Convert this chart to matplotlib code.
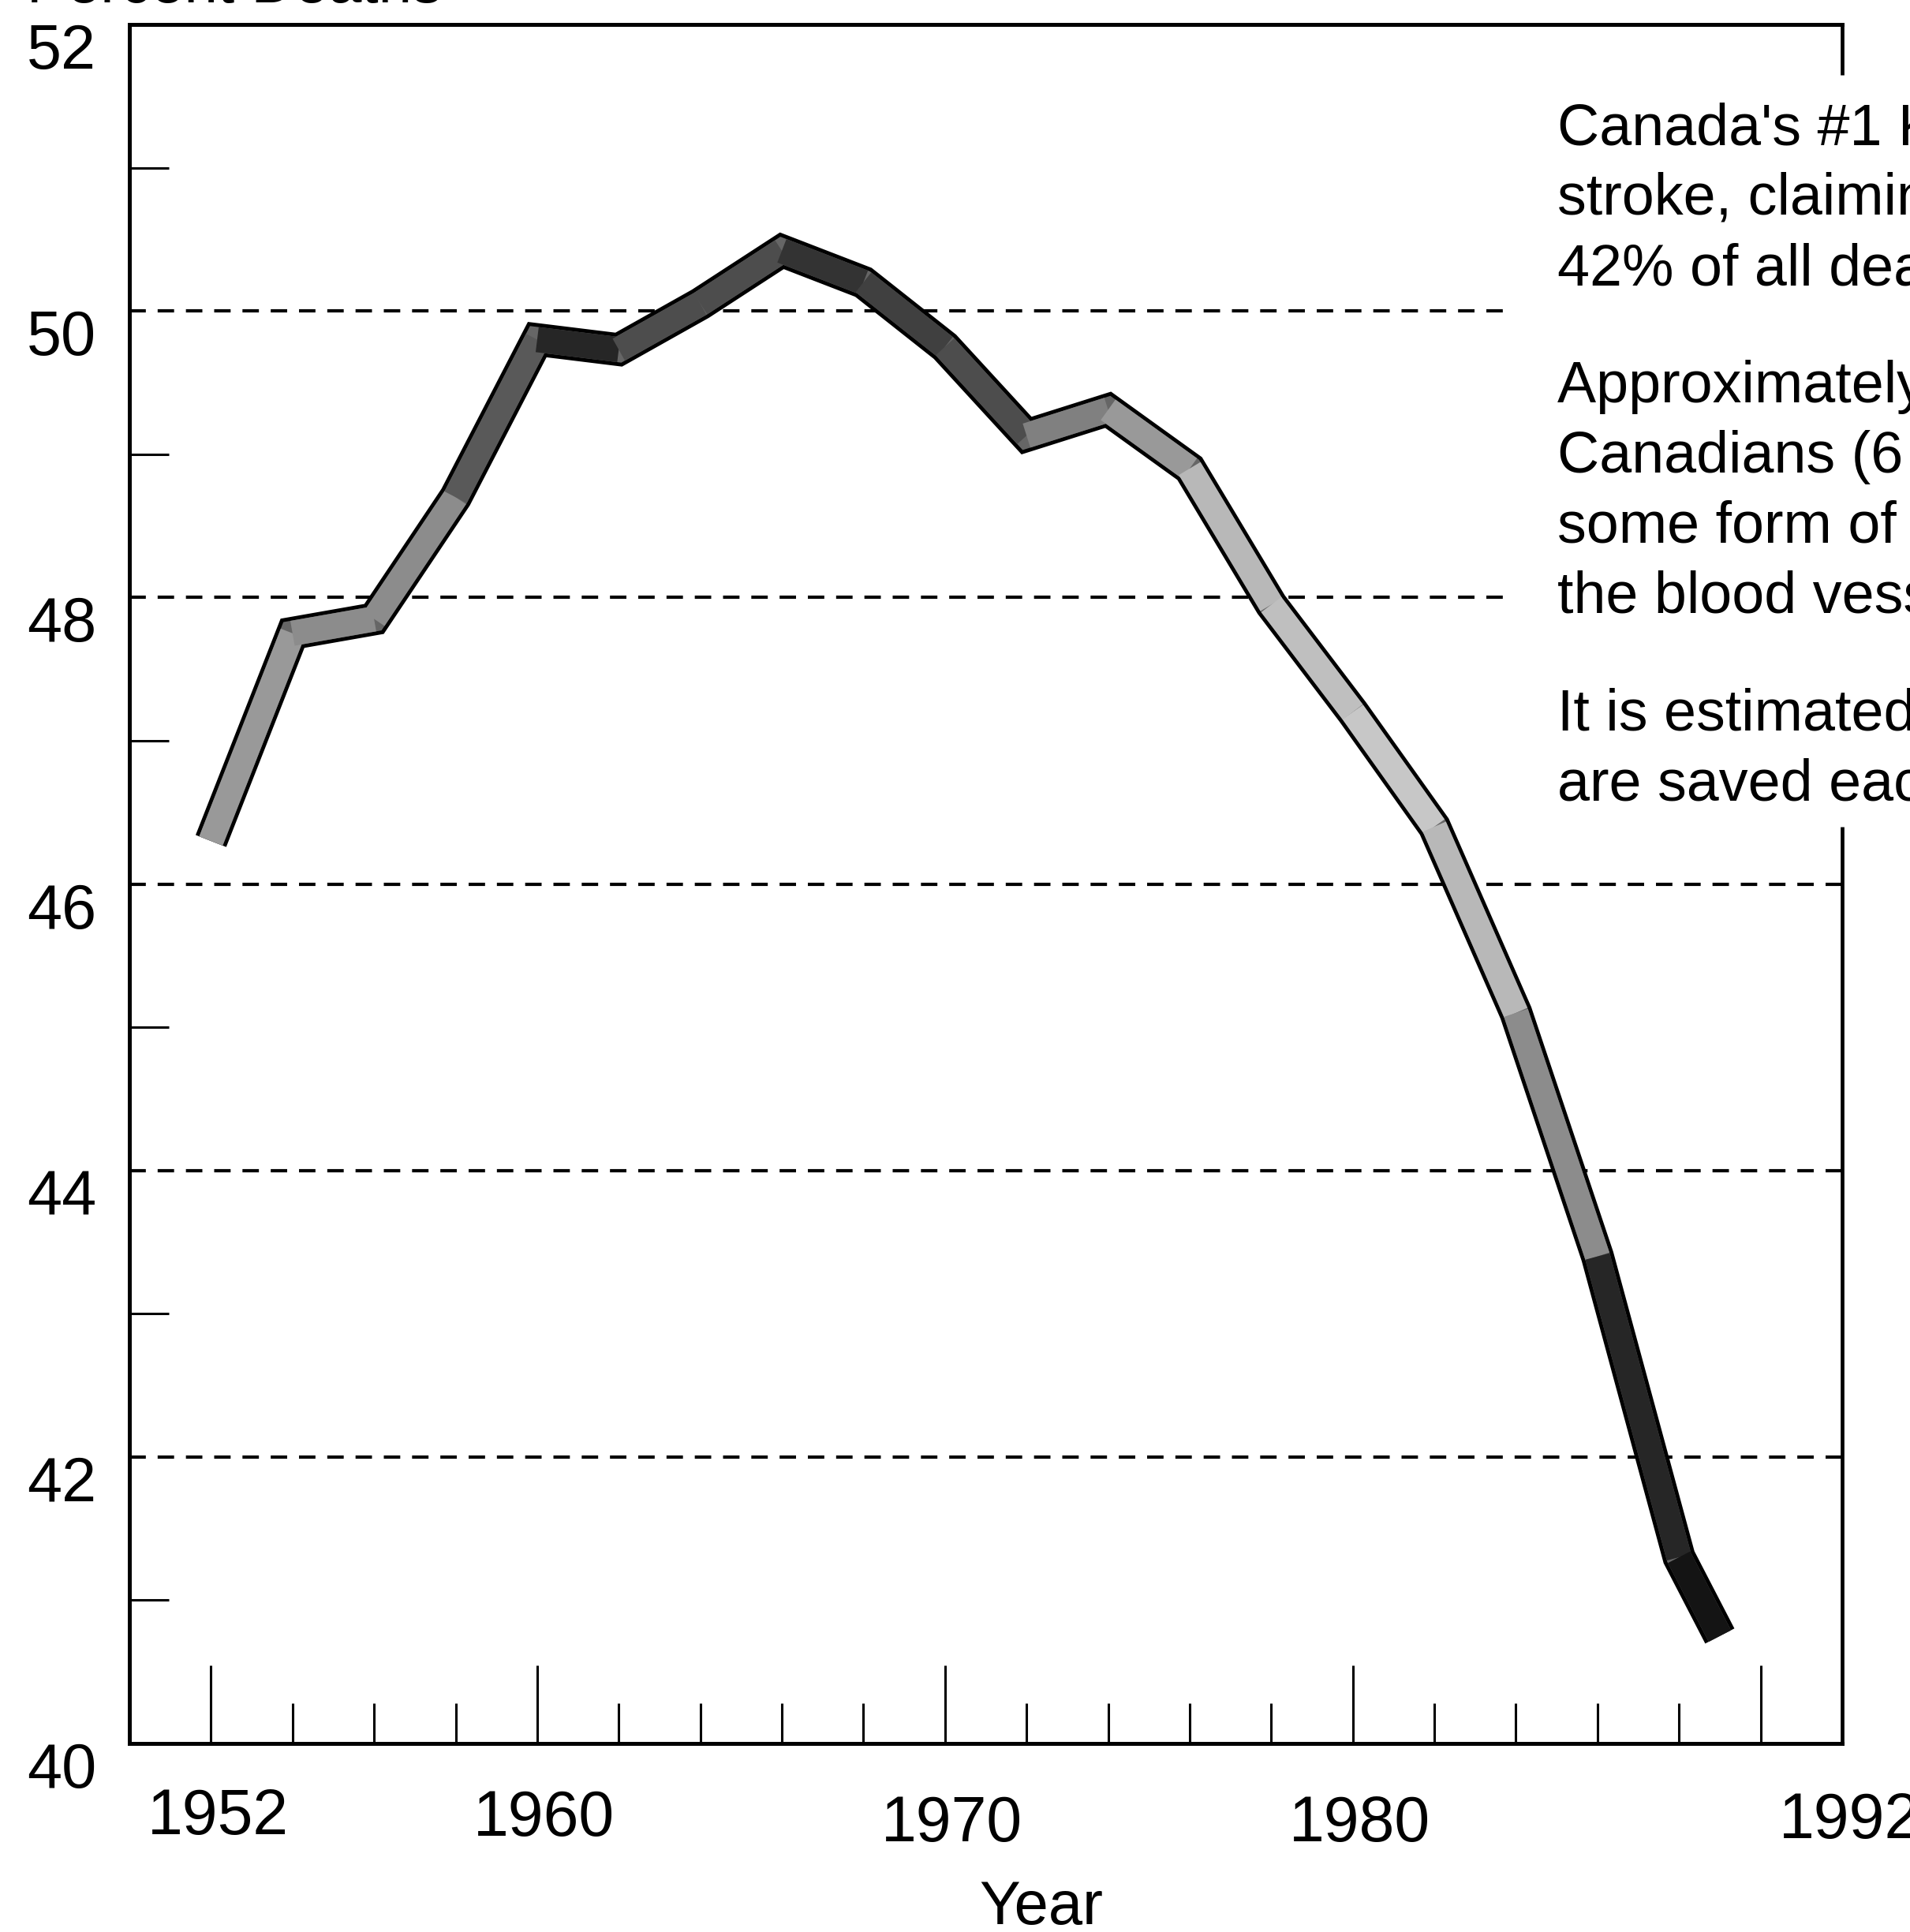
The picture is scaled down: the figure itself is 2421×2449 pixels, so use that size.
import matplotlib
matplotlib.use("Agg")
import matplotlib.pyplot as plt
import matplotlib.transforms as mtransforms

plt.rcParams["font.family"] = ["Liberation Sans", "DejaVu Sans"]

# percent of deaths
years = [1952, 1954, 1956, 1958, 1960, 1962, 1964, 1966, 1968, 1970,
         1972, 1974, 1976, 1978, 1980, 1982, 1984, 1986, 1988, 1989]
percent = [46.3, 47.75, 47.85, 48.7, 49.8, 49.73, 50.05, 50.42, 50.2, 49.75,
           49.13, 49.31, 48.9, 47.95, 47.2, 46.4, 45.1, 43.4, 41.3, 40.75]

# grey of the stippled fill, one per segment
band_shades = [0.6, 0.55, 0.55, 0.35, 0.15, 0.3, 0.3, 0.2, 0.25, 0.3,
               0.5, 0.6, 0.72, 0.75, 0.78, 0.72, 0.55, 0.15, 0.08]

x_major = [1952, 1960, 1970, 1980, 1990, 1992]
x_major_labels = ["1952", "1960", "1970", "1980", "", "1992"]
x_minor = list(range(1954, 1990, 2))
y_major = [40, 42, 44, 46, 48, 50, 52]
y_minor = [41, 43, 45, 47, 49, 51]

grid_levels = [50, 48, 46, 44, 42]
grid_ends = [1983.8, 1983.8, 1992, 1992, 1992]

notes = [
    ["Canada's #1 Killer is heart disease and",
     "stroke, claiming about 75,000 lives,",
     "42% of all deaths."],
    ["Approximately 4 million",
     "Canadians (6 million) suffer from",
     "some form of disease of the heart and",
     "the blood vessels."],
    ["It is estimated that thousands of lives",
     "are saved each year."],
]

W, H = 2421, 2449
fig = plt.figure(figsize=(W / 100, H / 100), dpi=100)
ax = fig.add_axes([164 / W, 1 - 2210 / H, (2335 - 164) / W, (2210 - 31) / H])

ax.set_xlim(1950, 1992)
ax.set_ylim(40, 52)

# dashed reference lines
for lev, end in zip(grid_levels, grid_ends):
    ax.hlines(lev, 1950, end, colors="black", lw=3,
              linestyles=(0, (5, 3.6)), zorder=1)

# thick banded line: black outline + grey interior
ax.plot(years, percent, color="black", lw=30, solid_joinstyle="miter",
        solid_capstyle="butt", zorder=3)
ax.plot(years, percent, color="0.4", lw=23, solid_joinstyle="miter",
        solid_capstyle="butt", zorder=4)
for i in range(len(years) - 1):
    ax.plot(years[i:i + 2], percent[i:i + 2], color=str(band_shades[i]),
            lw=23, solid_capstyle="butt", zorder=5)

# axes frame, right side broken where the notes sit
for side in ["left", "bottom", "top"]:
    ax.spines[side].set_linewidth(3.6)
ax.spines["right"].set_visible(False)
ax.vlines([1992, 1992], [40, 51.65], [46.4, 52], colors="black", lw=3.4,
          clip_on=False)

ax.set_xticks(x_major)
ax.set_xticklabels(x_major_labels)
ax.set_xticks(x_minor, minor=True)
ax.set_yticks(y_major)
ax.set_yticklabels([str(v) for v in y_major])
ax.set_yticks(y_minor, minor=True)

ax.tick_params(axis="x", which="major", direction="in", length=71, width=2.2,
               labelsize=58, pad=40)
ax.tick_params(axis="x", which="minor", direction="in", length=37, width=2.2)
ax.tick_params(axis="y", which="major", length=0, labelsize=57, pad=30)
ax.tick_params(axis="y", which="minor", direction="in", length=36, width=2.2)

down = mtransforms.ScaledTranslation(0, -0.27, fig.dpi_scale_trans)
for lab in ax.get_yticklabels():
    lab.set_transform(lab.get_transform() + down)
x_shift = [0.0, -0.02, -0.09, -0.09, 0.0, -0.05]
for lab, dy in zip(ax.get_xticklabels(), x_shift):
    lab.set_transform(lab.get_transform() +
                      mtransforms.ScaledTranslation(0.09, dy, fig.dpi_scale_trans))

fig.text(1320 / W, 1 - 2418 / H, "Year", fontsize=56, ha="center", va="center")

# axis title, cut off at the top edge of the scan
fig.text(34 / W, 1 - 3 / H, "Percent Deaths", fontsize=55, ha="left",
         va="baseline")

# side notes, cut off at the right edge of the scan
baseline = 183
for para in notes:
    for line in para:
        fig.text(1974 / W, 1 - baseline / H, line, fontsize=53, ha="left",
                 va="baseline")
        baseline += 89
    baseline += 60

fig.savefig("out.png", dpi=100)
